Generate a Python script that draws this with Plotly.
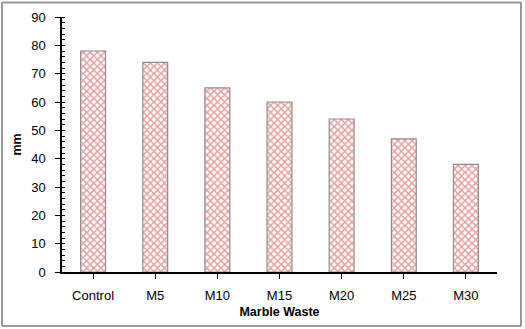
import plotly.graph_objects as go

categories = ["Control", "M5", "M10", "M15", "M20", "M25", "M30"]
values = [78, 74, 65, 60, 54, 47, 38]
y_ticks = [0, 10, 20, 30, 40, 50, 60, 70, 80, 90]

W, H = 525, 329
ml, mr, mt, mb = 62, 28, 17, 57
pw, ph = W - ml - mr, H - mt - mb

fig = go.Figure(go.Bar(
    x=categories, y=values, width=0.4,
    marker=dict(color="white",
                line=dict(color="#8c8c8c", width=1.2),
                pattern=dict(shape="x", fgcolor="#cf4444", bgcolor="white",
                             size=5, solidity=0.5)),
))

def px_to_paper_x(p):
    return (p - ml) / pw

def px_to_paper_y(p):
    return (H - mb - p) / ph

border = dict(color="#999999", width=2)
fig.add_shape(type="line", xref="paper", yref="paper",
              x0=px_to_paper_x(2), x1=px_to_paper_x(521),
              y0=px_to_paper_y(326), y1=px_to_paper_y(326), line=border)
fig.add_shape(type="line", xref="paper", yref="paper",
              x0=px_to_paper_x(2), x1=px_to_paper_x(2),
              y0=px_to_paper_y(326), y1=px_to_paper_y(2), line=border)
fig.add_shape(type="line", xref="paper", yref="paper",
              x0=px_to_paper_x(521), x1=px_to_paper_x(521),
              y0=px_to_paper_y(326), y1=px_to_paper_y(2), line=border)
fig.add_shape(type="line", xref="paper", yref="paper",
              x0=px_to_paper_x(2), x1=px_to_paper_x(521),
              y0=px_to_paper_y(2.5), y1=px_to_paper_y(2.5), line=border)

font = dict(family="Liberation Sans, Arial, sans-serif", size=13, color="black")
fig.update_layout(
    width=W, height=H, margin=dict(l=ml, r=mr, t=mt, b=mb, autoexpand=False),
    paper_bgcolor="white", plot_bgcolor="white", showlegend=False,
    font=font, bargap=0.6,
    xaxis=dict(showline=True, linecolor="black", linewidth=1.5,
               ticks="outside", ticklen=5, tickcolor="black",
               ticklabelstandoff=6, showgrid=False, automargin=False,
               title=dict(text="<b>Marble Waste</b>", standoff=5,
                          font=dict(size=12.5))),
    yaxis=dict(range=[0, 90], tickvals=y_ticks, showline=True,
               linecolor="black", linewidth=1.5, ticks="outside",
               ticklen=5, tickcolor="black", showgrid=False, zeroline=False,
               ticklabelstandoff=7, automargin=False,
               minor=dict(dtick=2, ticks="inside", ticklen=3, tickcolor="black",
                          showgrid=False),
               title=dict(text="<b>mm</b>", standoff=7, font=dict(size=12.5))),
)

fig.write_html("out.html", config={"displayModeBar": False},
               post_script=("document.body.style.margin='0';"
                            "document.body.style.overflow='hidden';"
                            "var d=document.getElementById('{plot_id}');"
                            "d.style.outline='2px solid #999999';"
                            "d.style.outlineOffset='-3px';"))
